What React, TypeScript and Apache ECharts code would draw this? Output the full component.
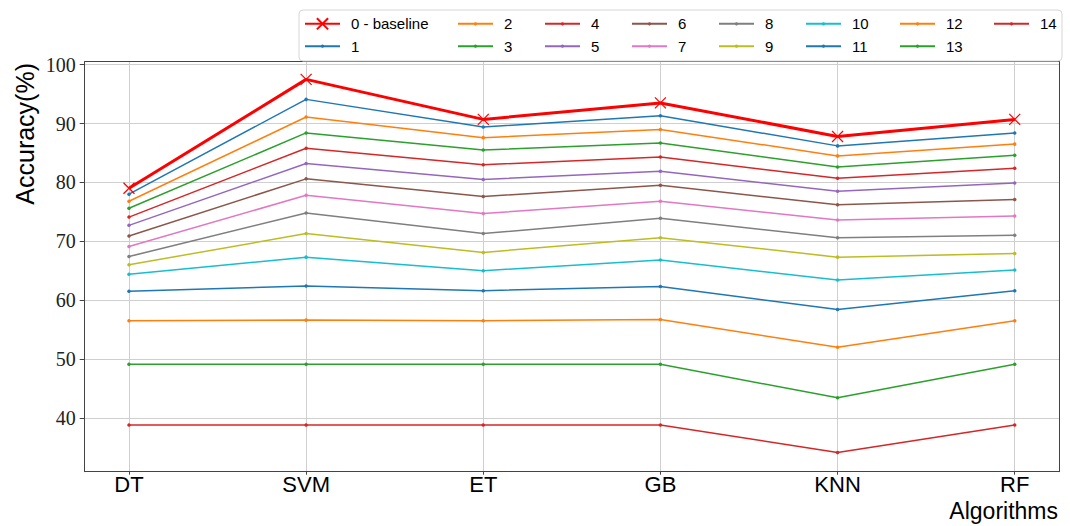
import React, { useEffect, useRef } from "react";
import * as echarts from "echarts";

const categories = ["DT", "SVM", "ET", "GB", "KNN", "RF"];
const seriesNames = ["0 - baseline", "1", "2", "3", "4", "5", "6", "7", "8", "9", "10", "11", "12", "13", "14"];
const seriesColors = [
  "#ff0000", "#1f77b4", "#ff7f0e", "#2ca02c", "#d62728", "#9467bd", "#8c564b", "#e377c2",
  "#7f7f7f", "#bcbd22", "#17becf", "#1f77b4", "#ff7f0e", "#2ca02c", "#d62728",
];

const baseline = [79.0, 97.5, 90.7, 93.5, 87.8, 90.7];
const s1 = [78.0, 94.1, 89.4, 91.3, 86.2, 88.4];
const s2 = [76.8, 91.1, 87.6, 89.0, 84.5, 86.5];
const s3 = [75.6, 88.4, 85.5, 86.7, 82.6, 84.6];
const s4 = [74.1, 85.8, 83.0, 84.3, 80.7, 82.4];
const s5 = [72.7, 83.2, 80.5, 81.9, 78.5, 79.9];
const s6 = [70.9, 80.6, 77.6, 79.5, 76.2, 77.1];
const s7 = [69.1, 77.8, 74.7, 76.8, 73.6, 74.3];
const s8 = [67.4, 74.8, 71.3, 73.9, 70.6, 71.0];
const s9 = [66.0, 71.3, 68.1, 70.6, 67.3, 67.9];
const s10 = [64.4, 67.3, 65.0, 66.8, 63.4, 65.1];
const s11 = [61.5, 62.4, 61.6, 62.3, 58.4, 61.6];
const s12 = [56.5, 56.6, 56.5, 56.7, 52.0, 56.5];
const s13 = [49.1, 49.1, 49.1, 49.1, 43.4, 49.1];
const s14 = [38.8, 38.8, 38.8, 38.8, 34.1, 38.8];
const seriesValues = [baseline, s1, s2, s3, s4, s5, s6, s7, s8, s9, s10, s11, s12, s13, s14];

const yTicks = [40, 50, 60, 70, 80, 90, 100];
const xTicks = [0, 1, 2, 3, 4, 5];

// legend layout (matplotlib column-major, 2 rows)
const legendColumnLefts = [304, 457, 544, 631, 718, 805, 899, 993];
const legendRowCenters = [23.3, 45.7];

const SANS = "'Liberation Sans', 'DejaVu Sans', sans-serif";
const SERIF = "'Liberation Serif', 'DejaVu Serif', serif";
const X_PATH = "path://M0,0L10,10M0,10L10,0";

export default function App() {
  const ref = useRef<HTMLDivElement>(null);
  useEffect(() => {
    if (!ref.current) return;
    const chart = echarts.init(ref.current, null, { renderer: "svg" });
    const series = seriesValues.map((vals, k) => ({
      name: seriesNames[k],
      type: "line",
      data: vals.map((v, i) => [i, v]),
      xAxisIndex: 0,
      yAxisIndex: 0,
      symbol: k === 0 ? X_PATH : "circle",
      symbolSize: k === 0 ? 11 : 3.5,
      showSymbol: true,
      z: k === 0 ? 20 : 10 - k * 0.1,
      lineStyle: { color: seriesColors[k], width: k === 0 ? 3 : 1.5 },
      itemStyle: {
        color: seriesColors[k],
        borderColor: seriesColors[k],
        borderWidth: k === 0 ? 1.2 : 0,
      },
      emphasis: { disabled: true },
    }));
    const legends = seriesNames.map((name, k) => {
      const col = Math.floor(k / 2);
      const row = k % 2;
      const ih = k === 0 ? 14 : 4;
      return {
        data: [name],
        orient: "vertical",
        left: legendColumnLefts[col],
        top: legendRowCenters[row] - 7,
        padding: 0,
        itemWidth: 35,
        itemHeight: ih,
        selectedMode: false,
        z: 30,
        textStyle: {
          fontFamily: SANS,
          fontSize: 15,
          color: "#000",
          lineHeight: 14,
          padding: [0, 0, 0, 6],
        },
      };
    });
    chart.setOption({
      animation: false,
      backgroundColor: "#ffffff",
      grid: { left: 84.7, right: 11, top: 61.7, bottom: 54.3, containLabel: false },
      xAxis: [
        {
          type: "value",
          min: -0.25,
          max: 5.25,
          position: "bottom",
          axisLine: { show: true, lineStyle: { color: "#444", width: 1 } },
          axisTick: { show: true, inside: false, length: 3, customValues: xTicks, lineStyle: { color: "#444" } },
          axisLabel: {
            customValues: xTicks,
            formatter: (v: number) => categories[Math.round(v)] ?? "",
            fontFamily: SANS,
            fontSize: 22,
            lineHeight: 19,
            color: "#000",
            margin: 3,
          },
          splitLine: { show: true, lineStyle: { color: "#cfcfcf", width: 1 } },
        },
        {
          type: "value",
          min: -0.25,
          max: 5.25,
          position: "top",
          axisLine: { show: true, onZero: false, lineStyle: { color: "#444", width: 1 } },
          axisTick: { show: false },
          axisLabel: { show: false },
          splitLine: { show: false },
        },
      ],
      yAxis: [
        {
          type: "value",
          min: 30.85,
          max: 100.5,
          position: "left",
          axisLine: { show: true, onZero: false, lineStyle: { color: "#444", width: 1 } },
          axisTick: { show: true, inside: false, length: 5, customValues: yTicks, lineStyle: { color: "#444" } },
          axisLabel: {
            customValues: yTicks,
            fontFamily: SERIF,
            fontSize: 20,
            color: "#222",
            margin: 9,
          },
          splitLine: { show: true, lineStyle: { color: "#cfcfcf", width: 1 } },
        },
        {
          type: "value",
          min: 30.85,
          max: 100.5,
          position: "right",
          axisLine: { show: true, onZero: false, lineStyle: { color: "#444", width: 1 } },
          axisTick: { show: false },
          axisLabel: { show: false },
          splitLine: { show: false },
        },
      ],
      legend: legends,
      graphic: [
        {
          type: "rect",
          shape: { x: 299, y: 10, width: 763, height: 51, r: 4 },
          style: { fill: "rgba(255,255,255,0.8)", stroke: "#d6d6d6", lineWidth: 1 },
          z: 25,
          silent: true,
        },
        {
          type: "text",
          x: 25,
          y: 63,
          rotation: Math.PI / 2,
          style: {
            text: "Accuracy(%)",
            fontFamily: SANS,
            fontSize: 25,
            fill: "#000",
            textAlign: "right",
            textVerticalAlign: "middle",
          },
        },
        {
          type: "text",
          x: 1058,
          y: 499.5,
          style: {
            text: "Algorithms",
            fontFamily: SANS,
            fontSize: 23,
            lineHeight: 22,
            fill: "#000",
            textAlign: "right",
            textVerticalAlign: "top",
          },
        },
      ],
      series,
    });
    return () => chart.dispose();
  }, []);
  return (
    <div
      ref={ref}
      style={{ position: "fixed", left: 0, top: 0, width: 1070, height: 526 }}
    />
  );
}
